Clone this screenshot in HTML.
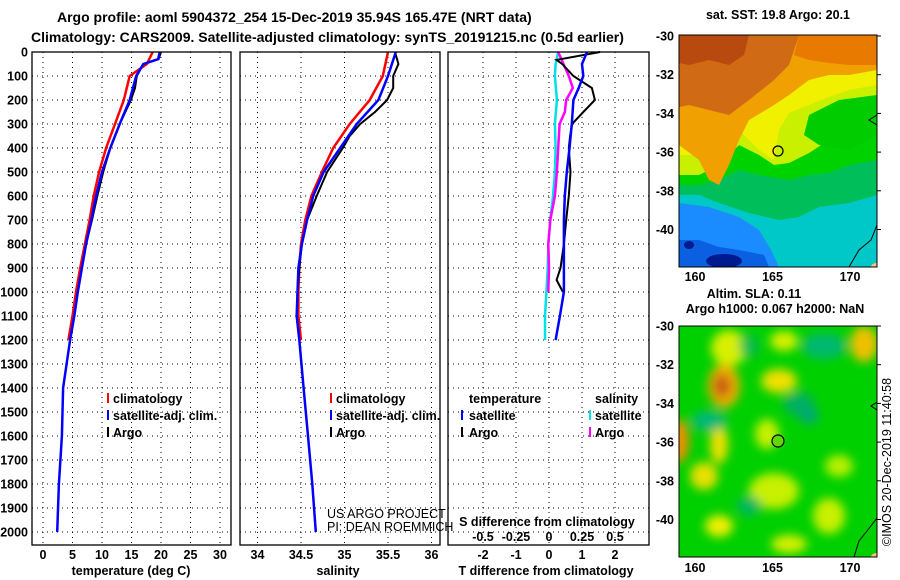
<!DOCTYPE html>
<html><head><meta charset="utf-8">
<style>
body{margin:0;background:#fff;}
svg{display:block;font-family:"Liberation Sans",sans-serif;}
.b{font-weight:bold;font-size:12.5px;}
.t{font-weight:bold;font-size:14px;}
</style></head>
<body>
<svg id="c" width="900" height="580" viewBox="0 0 900 580">
<text class="t" x="57" y="22">Argo profile: aoml 5904372_254 15-Dec-2019 35.94S 165.47E (NRT data)</text>
<text class="t" x="31" y="42">Climatology: CARS2009. Satellite-adjusted climatology: synTS_20191215.nc (0.5d earlier)</text>
<g id="p1"></g>
<g id="p2"></g>
<g id="p3"></g>

<!-- SST map -->
<g>
<text class="b" x="778" y="19" text-anchor="middle" font-size="12">sat. SST: 19.8 Argo: 20.1</text>
<svg x="679" y="35" width="198" height="232" viewBox="0 0 198 232">
<rect width="198" height="232" fill="#00c8c8"/>
<polygon fill="#1a8cff" points="0,168 30,172 60,182 80,195 92,215 100,232 0,232"/>
<polygon fill="#0a60e0" points="0,205 20,205 40,212 60,215 85,220 90,232 0,232"/>
<ellipse cx="45" cy="226" rx="18" ry="7" fill="#001a90"/>
<ellipse cx="10" cy="210" rx="5" ry="4" fill="#001a90"/>
<polygon fill="#00bf5a" points="0,0 198,0 198,160 170,168 140,172 120,182 100,185 70,178 40,168 20,160 0,160"/>
<polygon fill="#00d200" points="0,0 198,0 198,125 170,130 150,138 130,140 110,145 80,140 60,135 40,145 20,150 0,150"/>
<polygon fill="#c8f000" points="0,0 198,0 198,85 170,88 150,105 130,118 110,128 95,130 80,120 60,110 40,130 20,140 0,140"/>
<polygon fill="#00cc00" points="130,80 160,65 198,60 198,100 170,115 140,110 125,100"/>
<polygon fill="#f0f000" points="0,0 198,0 198,50 170,55 150,62 130,70 110,78 100,95 95,125 80,115 60,95 40,110 20,120 0,120"/>
<polygon fill="#f0a000" points="0,0 198,0 198,35 170,40 150,40 130,45 110,60 95,70 70,85 60,105 50,130 40,150 30,145 20,125 0,110"/>
<polygon fill="#d06a14" points="0,0 120,0 110,30 95,45 70,65 50,80 30,75 10,70 0,72"/>
<polygon fill="#e87a00" points="120,0 198,0 198,30 170,30 150,28 130,25 115,20"/>
<polygon fill="#b84a10" points="0,0 70,0 65,20 50,30 30,25 10,30 0,28"/>
<path d="M198,80 L190,85 L198,90 M198,190 L192,205 L180,215 L170,232" stroke="#000" fill="none" stroke-width="1"/>
<ellipse cx="198" cy="232" rx="6" ry="4" fill="#ffc080"/>
</svg>
<rect x="679" y="35" width="198" height="232" fill="none" stroke="#000"/>
<circle cx="778" cy="151" r="5" fill="none" stroke="#000" stroke-width="1.2"/>
</g>

<!-- SLA map -->
<g>
<text class="b" x="754" y="298" text-anchor="middle" font-size="12">Altim. SLA: 0.11</text>
<text class="b" x="775" y="313" text-anchor="middle" font-size="12">Argo h1000: 0.067 h2000: NaN</text>
<svg x="679" y="326" width="198" height="231" viewBox="0 0 198 231">
<defs><filter id="bl" x="-50%" y="-50%" width="200%" height="200%"><feGaussianBlur stdDeviation="5"/></filter></defs>
<rect width="198" height="231" fill="#00d000"/>
<g filter="url(#bl)">
<ellipse cx="50" cy="22" rx="18" ry="18" fill="#d8f000"/>
<ellipse cx="45" cy="60" rx="16" ry="22" fill="#f0b000"/>
<ellipse cx="43" cy="60" rx="9" ry="12" fill="#c86010"/>
<ellipse cx="100" cy="55" rx="18" ry="12" fill="#f0e000"/>
<ellipse cx="105" cy="15" rx="14" ry="10" fill="#d8f000"/>
<ellipse cx="185" cy="18" rx="14" ry="18" fill="#f0c000"/>
<ellipse cx="0" cy="115" rx="10" ry="22" fill="#f09000"/>
<ellipse cx="40" cy="118" rx="9" ry="20" fill="#f0e000"/>
<ellipse cx="88" cy="108" rx="12" ry="15" fill="#c8f000"/>
<ellipse cx="25" cy="150" rx="14" ry="14" fill="#e8e000"/>
<ellipse cx="95" cy="165" rx="25" ry="18" fill="#c8f000"/>
<ellipse cx="160" cy="140" rx="14" ry="11" fill="#b8f000"/>
<ellipse cx="150" cy="190" rx="16" ry="18" fill="#c8f000"/>
<ellipse cx="40" cy="200" rx="14" ry="11" fill="#f0f000"/>
<ellipse cx="110" cy="218" rx="18" ry="9" fill="#d8f000"/>
<ellipse cx="70" cy="20" rx="10" ry="12" fill="#00b070" opacity="0.7"/>
<ellipse cx="120" cy="78" rx="16" ry="12" fill="#00b060"/>
<ellipse cx="30" cy="95" rx="18" ry="10" fill="#00b878"/>
<ellipse cx="145" cy="20" rx="22" ry="13" fill="#00b870"/>
<ellipse cx="130" cy="90" rx="10" ry="8" fill="#00a878"/>
<ellipse cx="70" cy="180" rx="12" ry="10" fill="#00b860"/>
</g>
<path d="M198,76 L192,80 L198,84 M198,192 L188,205 L180,215 L175,231" stroke="#000" fill="none" stroke-width="1"/>
<ellipse cx="198" cy="231" rx="6" ry="4" fill="#ffc080"/>
</svg>
<rect x="679" y="326" width="198" height="231" fill="none" stroke="#000"/>
<circle cx="778" cy="441" r="6" fill="#60d800" stroke="#000" stroke-width="1.2"/>
</g>
<text x="891" y="462" transform="rotate(-90 891 462)" text-anchor="middle" font-size="12.5">©IMOS 20-Dec-2019 11:40:58</text>
<text x="327" y="518" font-size="12.5">US ARGO PROJECT</text>
<text x="327" y="531" font-size="12.5">PI: DEAN ROEMMICH</text>
</svg>
<script>
// ---- data ----
const depthsTA = [0,30,50,100,150,200,300,400,500,600,700,800,900,1000,1100,1200];
const tempArgo = [20.0,19.6,17.0,15.9,15.6,14.9,13.0,11.4,10.2,9.2,8.3,7.3,6.6,5.9,5.3,4.6];
const depthsTC = [0,50,100,200,300,400,500,600,700,800,900,1000,1100,1200];
const tempClim = [18.6,17.6,14.7,13.7,12.2,10.7,9.5,8.6,7.9,7.1,6.3,5.6,5.0,4.3];
const depthsTS = [0,30,50,100,200,300,400,500,600,700,800,900,1000,1100,1200,1300,1400,1600,1800,2000];
const tempSat = [19.8,19.5,17.0,15.8,14.7,13.0,11.4,10.0,9.0,8.2,7.3,6.6,5.9,5.3,4.6,4.0,3.4,3.2,2.7,2.4];

const depthsS = [0,50,100,150,200,250,300,350,400,500,600,700,800,900,1000,1100,1200];
const salArgo = [35.58,35.62,35.56,35.56,35.49,35.35,35.18,35.06,34.98,34.80,34.68,34.57,34.51,34.48,34.46,34.45,34.48];
const depthsSC = [0,100,200,300,400,500,600,700,800,900,1000,1100,1200];
const salClim = [35.50,35.44,35.29,35.06,34.87,34.74,34.62,34.55,34.50,34.48,34.47,34.47,34.50];
const depthsSS = [0,100,200,300,400,500,600,700,800,900,1000,1100,1200,1400,1600,1800,2000];
const salSat = [35.59,35.50,35.39,35.14,34.95,34.76,34.64,34.57,34.51,34.47,34.46,34.45,34.48,34.53,34.58,34.63,34.67];

const depthsDA = [0,33,50,100,150,200,250,300,350,400,500,600,700,800,850,900,950,1000];
const dTArgo = [1.55,0.23,0.40,0.74,1.30,1.39,1.04,0.70,0.64,0.60,0.65,0.60,0.52,0.45,0.40,0.35,0.23,0.42];
const depthsDS = [0,50,100,150,200,300,400,500,600,700,800,900,1000,1100,1200];
const dTSat = [1.15,1.00,1.04,0.90,0.74,0.69,0.62,0.54,0.48,0.45,0.45,0.45,0.45,0.33,0.20];
const depthsDM = [0,50,100,150,200,250,300,400,500,600,700,800,900,1000];
const dSArgo = [0.07,0.11,0.15,0.18,0.13,0.12,0.08,0.07,0.06,0.045,0.01,-0.005,0.0,-0.005];
const depthsDC = [0,50,100,200,300,400,500,600,700,800,900,1000,1100,1200];
const dSSat = [0.07,0.05,0.045,0.06,0.045,0.05,0.045,0.03,0.01,-0.005,-0.01,-0.02,-0.03,-0.03];

const depthTicks = [0,100,200,300,400,500,600,700,800,900,1000,1100,1200,1300,1400,1500,1600,1700,1800,1900,2000];
const tTicks = [0,5,10,15,20,25,30];
const sTicks = [34,34.5,35,35.5,36];
const dTTicks = [-2,-1,0,1,2];
const dSTickLabels = ['-0.5','-0.25','0','0.25','0.5'];

// ---- axes ----
const NS='http://www.w3.org/2000/svg';
const yD = d => 52 + d*0.24;
const xT = t => 43 + t*5.9;
const xS = s => 301 + (s-34.5)*87;
const xdT = v => 549 + v*33;
const xdS = v => 549 + v*132;
const TOP=52, BOT=545;

function mk(parent, tag, attrs){
  const e=document.createElementNS(NS,tag);
  for(const k in attrs) e.setAttribute(k,attrs[k]);
  parent.appendChild(e); return e;
}
function frame(g,x0,x1,name){
  const r=mk(g,'rect',{x:x0,y:TOP,width:x1-x0,height:BOT-TOP,fill:'none',stroke:'#000','stroke-width':1.3});
  
  
}
function grid(g,x0,x1,xs){
  depthTicks.forEach(d=>{
    const l=mk(g,'line',{x1:x0,x2:x1,y1:yD(d),y2:yD(d),stroke:'#000','stroke-dasharray':'1,4','stroke-width':1});
    
    
  });
  xs.forEach(x=>{
    const l=mk(g,'line',{x1:x,x2:x,y1:TOP,y2:BOT,stroke:'#000','stroke-dasharray':'1,4','stroke-width':1});
    
    
  });
}
function line(g,ds,vs,fx,color,name,w){
  const pts=ds.map((d,i)=>fx(vs[i]).toFixed(1)+','+yD(d).toFixed(1)).join(' ');
  const p=mk(g,'polyline',{points:pts,fill:'none',stroke:color,'stroke-width':w||2});
  
  
}
function xlabels(g,vals,fx,labels,y){
  vals.forEach((v,i)=>{
    const t=mk(g,'text',{x:fx(v),y:y,'text-anchor':'middle',class:'b'});
    t.textContent=labels?labels[i]:String(v);
    
    
  });
}
function txt(g,x,y,s,name,anchor){
  const t=mk(g,'text',{x:x,y:y,class:'b','text-anchor':anchor||'start'});
  t.textContent=s;
  
  
}
function legbar(g,x,y,color){
  const l=mk(g,'line',{x1:x,x2:x,y1:y-10,y2:y,stroke:color,'stroke-width':2});
  
  
}

// panel 1
const p1=document.getElementById('p1');
grid(p1,32,231,tTicks.map(xT));
line(p1,depthsTC,tempClim,xT,'#f00','temperature-climatology-line',2.5);
line(p1,depthsTA,tempArgo,xT,'#000','temperature-argo-line',2);
line(p1,depthsTS,tempSat,xT,'#00f','temperature-satellite-line',2.5);
frame(p1,32,231,'temperature-plot-frame');
depthTicks.forEach(d=>{
  const t=mk(p1,'text',{x:28,y:yD(d)+4.5,'text-anchor':'end',class:'b'});
  t.textContent=String(d);
  
  
});
xlabels(p1,tTicks,xT,null,559);
txt(p1,131,575,'temperature (deg C)','temperature-axis-title','middle');
legbar(p1,108,403,'#f00'); txt(p1,113,403,'climatology','legend-climatology');
legbar(p1,108,420,'#00f'); txt(p1,113,420,'satellite-adj. clim.','legend-satellite');
legbar(p1,108,437,'#000'); txt(p1,113,437,'Argo','legend-argo');

// panel 2
const p2=document.getElementById('p2');
grid(p2,240,440,sTicks.map(xS));
line(p2,depthsSC,salClim,xS,'#f00','salinity-climatology-line',2.5);
line(p2,depthsS,salArgo,xS,'#000','salinity-argo-line',2);
line(p2,depthsSS,salSat,xS,'#00f','salinity-satellite-line',2.5);
frame(p2,240,440,'salinity-plot-frame');
xlabels(p2,sTicks,xS,null,559);
txt(p2,338,575,'salinity','salinity-axis-title','middle');
legbar(p2,331,403,'#f00'); txt(p2,336,403,'climatology','legend-climatology');
legbar(p2,331,420,'#00f'); txt(p2,336,420,'satellite-adj. clim.','legend-satellite');
legbar(p2,331,437,'#000'); txt(p2,336,437,'Argo','legend-argo');

// panel 3
const p3=document.getElementById('p3');
grid(p3,448,649,dTTicks.map(xdT));
line(p3,depthsDC,dSSat,xdS,'#00e0e8','salinity-diff-satellite-line',2.5);
line(p3,depthsDM,dSArgo,xdS,'#ff00ff','salinity-diff-argo-line',2.5);
line(p3,depthsDA,dTArgo,xdT,'#000','temperature-diff-argo-line',2);
line(p3,depthsDS,dTSat,xdT,'#00f','temperature-diff-satellite-line',2.5);
frame(p3,448,649,'difference-plot-frame');
xlabels(p3,dTTicks,xdT,null,559);
xlabels(p3,dTTicks,xdT,dSTickLabels,541);
txt(p3,547,526,'S difference from climatology','s-diff-axis-title','middle');
txt(p3,546,575,'T difference from climatology','t-diff-axis-title','middle');
txt(p3,469,403,'temperature','legend-temperature-header');
txt(p3,595,403,'salinity','legend-salinity-header');
legbar(p3,462,420,'#00f'); txt(p3,469,420,'satellite','legend-t-satellite');
legbar(p3,462,437,'#000'); txt(p3,469,437,'Argo','legend-t-argo');
legbar(p3,590,420,'#00e0e8'); txt(p3,595,420,'satellite','legend-s-satellite');
legbar(p3,590,437,'#ff00ff'); txt(p3,595,437,'Argo','legend-s-argo');

// map axes
const svg=document.getElementById('c');
const latTicks=[-30,-32,-34,-36,-38,-40];
const lonTicks=[160,165,170];
function mapAxes(y0,step,yb,name){
  const g=mk(svg,'g',{});
  
  
  latTicks.forEach((v,i)=>{
    const y=y0+i*step;
    const t=mk(g,'text',{x:674,y:y+4.5,'text-anchor':'end',class:'b'});
    t.textContent=String(v);
    
    
    mk(g,'line',{x1:877,x2:881,y1:y,y2:y,stroke:'#000'});
  });
  lonTicks.forEach(v=>{
    const x=695+(v-160)*15.5;
    const t=mk(g,'text',{x:x,y:yb,'text-anchor':'middle',class:'b'});
    t.textContent=String(v);
    
    
  });
}
mapAxes(36,38.7,281,'sst-map-axes');
mapAxes(326,38.7,572,'sla-map-axes');
</script>
</body></html>
